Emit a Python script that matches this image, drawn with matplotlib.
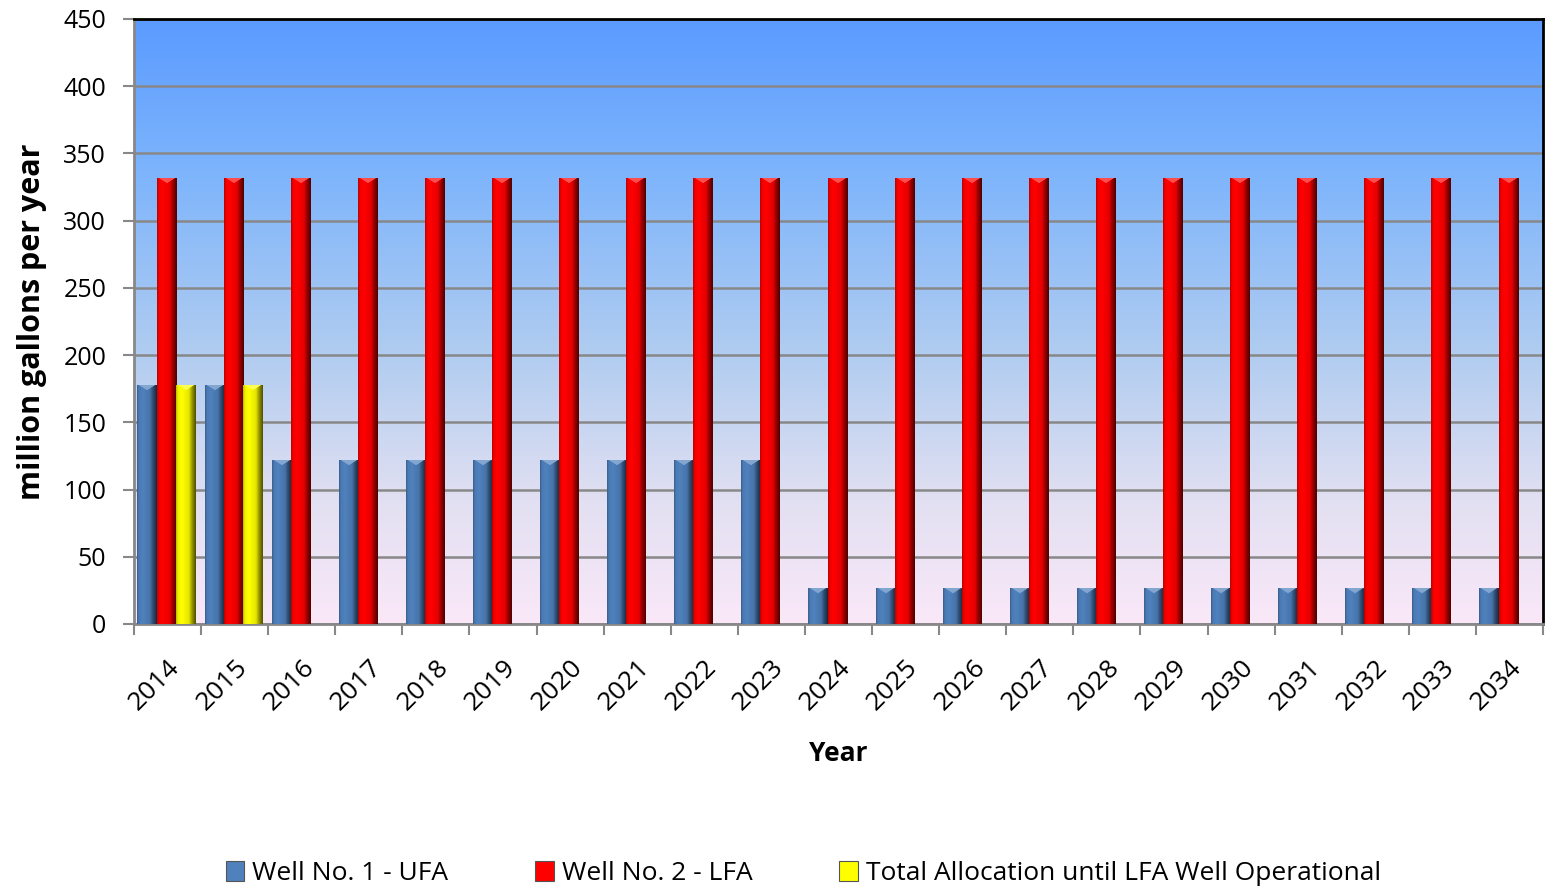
import numpy as np
import matplotlib
matplotlib.use("Agg")
import matplotlib.pyplot as plt
from matplotlib.patches import Patch
from matplotlib.colors import to_rgb

# ---------------- data ----------------
years = [str(y) for y in range(2014, 2035)]
well1_ufa = [178, 178, 122, 122, 122, 122, 122, 122, 122, 122,
             27, 27, 27, 27, 27, 27, 27, 27, 27, 27, 27]
well2_lfa = [332] * 21
total_alloc = [178, 178] + [0] * 19

series_names = ["Well No. 1 - UFA", "Well No. 2 - LFA",
                "Total Allocation until LFA Well Operational"]
series_colors = ["#4F81BD", "#FF0000", "#FFFF00"]

plt.rcParams['font.family'] = ['Open Sans', 'DejaVu Sans']

fig = plt.figure(figsize=(15.45, 8.91), dpi=100)
ax = fig.add_axes([0.0867, 0.2997, 0.9120, 0.6790])

n = len(years)
x = np.arange(n)
bw = 0.285
offsets = [-bw - 0.02, -0.02, bw - 0.02]

ax.set_xlim(-0.5, n - 0.5)
ax.set_ylim(0, 450)

# background gradient
grad_cols = np.array([to_rgb("#FAE8F8"), to_rgb("#E2E0F2"), to_rgb("#B0CCF0"),
                      to_rgb("#7DB4FC"), to_rgb("#5B9BFF")])
stops = np.array([0.0, 0.2, 0.45, 0.75, 1.0])
t = np.linspace(0, 1, 400)
bg = np.stack([np.interp(t, stops, grad_cols[:, c]) for c in range(3)], axis=1)
bg = bg[::-1][:, None, :]
ax.imshow(bg, extent=[0, 1, 0, 1], transform=ax.transAxes, aspect='auto',
          zorder=0, interpolation='bilinear')

ax.yaxis.grid(True, color='#888888', lw=1.8, zorder=1)
ax.set_axisbelow(True)

px_per_unit = 605 / 450.0
px_per_x = 1409 / n


def shade(base, w_px, h_px):
    base = np.array(to_rgb(base))
    cols = max(int(w_px) * 2, 2)
    rows = max(int(h_px), 2)
    u = (np.arange(cols) + 0.5) / cols
    prof = np.interp(u, [0, 0.1, 0.3, 0.65, 0.8, 1.0],
                     [0.7, 0.95, 1.0, 0.9, 0.6, 0.3])
    img = np.ones((rows, cols, 3)) * base
    img = img * prof[None, :, None]
    dy = np.arange(rows)[:, None] + 0.5
    tri = dy < 6.0 * (1 - np.abs(2 * u[None, :] - 1))
    light = base + (1 - base) * 0.3
    img[tri] = light
    return np.clip(img, 0, 1)


series = [well1_ufa, well2_lfa, total_alloc]
for vals, off, col, name in zip(series, offsets, series_colors, series_names):
    bars = ax.bar(x + off, vals, width=bw, color=col, edgecolor='none',
                  zorder=2, label=name)
    for b in bars:
        h = b.get_height()
        if h <= 0:
            continue
        img = shade(col, b.get_width() * px_per_x, h * px_per_unit)
        im = ax.imshow(img, extent=[b.get_x(), b.get_x() + b.get_width(), 0, h],
                       aspect='auto', zorder=3, interpolation='bilinear')
        im.set_clip_path(b)

ax.set_xlim(-0.5, n - 0.5)
ax.set_ylim(0, 450)

# ticks
ax.set_yticks(np.arange(0, 451, 50))
ax.tick_params(axis='y', length=8, width=1.5, color='#888888', labelsize=18, pad=12)
ax.set_xticks(np.arange(-0.5, n, 1))
ax.set_xticklabels([])
ax.tick_params(axis='x', which='major', length=8, width=1.5, color='#888888')
ax.set_xticks(x, minor=True)
ax.set_xticklabels(years, minor=True, rotation=45, ha='right',
                   rotation_mode='anchor', fontsize=19)
ax.tick_params(axis='x', which='minor', length=0, pad=22)

for s in ['top', 'right']:
    ax.spines[s].set_color('black')
    ax.spines[s].set_linewidth(2)
for s in ['left', 'bottom']:
    ax.spines[s].set_color('#888888')
    ax.spines[s].set_linewidth(2)

ax.set_xlabel('Year', fontsize=19, fontweight='bold', labelpad=18)
ax.set_ylabel('million gallons per year', fontsize=22, fontweight='bold', labelpad=12)

handles = [Patch(facecolor=c, edgecolor='#555555', lw=0.8) for c in series_colors]
fig.legend(handles, series_names, loc='center', bbox_to_anchor=(0.52, 0.02),
           ncol=3, frameon=False, fontsize=19, handlelength=0.7, handleheight=0.8,
           handletextpad=0.3, columnspacing=3.3)

fig.savefig('out.png', dpi=100, facecolor='white')
